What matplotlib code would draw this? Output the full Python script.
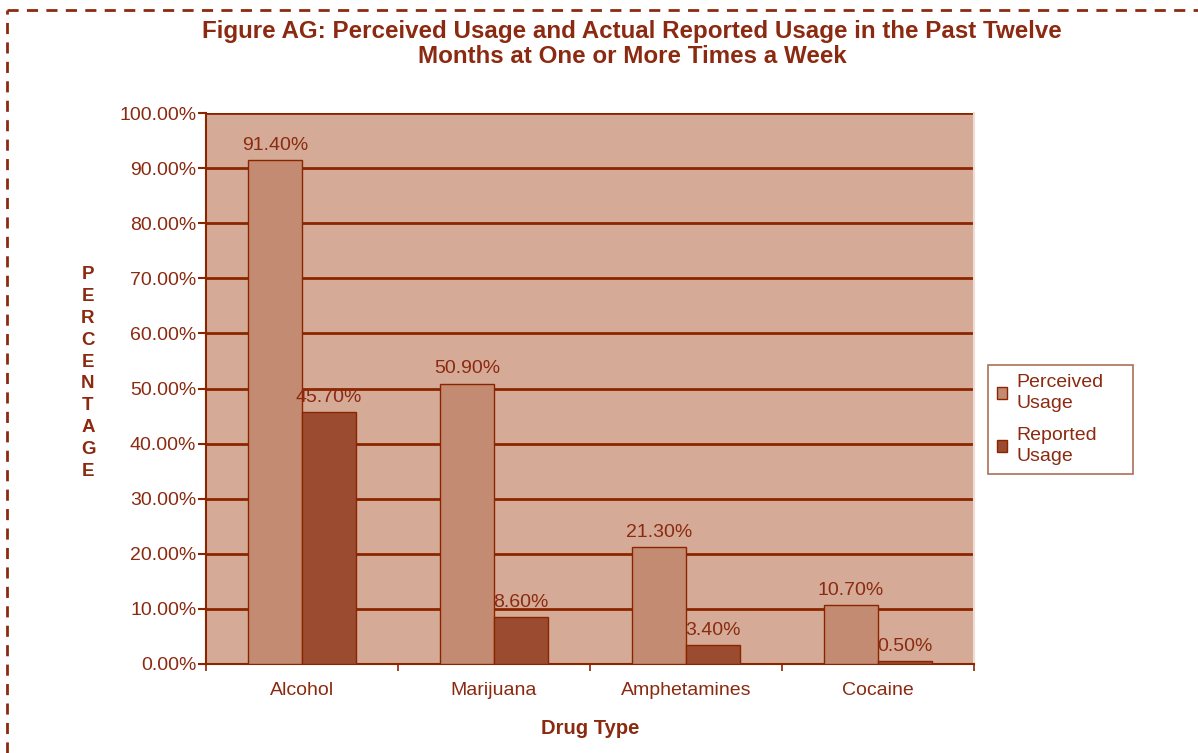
import numpy as np
import matplotlib.pyplot as plt
from matplotlib.lines import Line2D
from matplotlib.ticker import FuncFormatter, FixedLocator

# dados do gráfico
drugs = ["Alcohol", "Marijuana", "Amphetamines", "Cocaine"]
perceived = [91.4, 50.9, 21.3, 10.7]
reported = [45.7, 8.6, 3.4, 0.5]
series_names = ["Perceived\nUsage", "Reported\nUsage"]

# cores
txt = "#8B2A10"
grid_c = "#8B2500"
bg = "#D5AB97"
c_perc = "#C48B73"
c_rep = "#9A4B30"

plt.rcParams['font.family'] = ['Liberation Sans', 'DejaVu Sans']

fig = plt.figure(figsize=(11.98, 7.53), dpi=100)
ax = fig.add_axes([206 / 1198, 1 - 664 / 753, 768 / 1198, 551 / 753])
ax.set_facecolor(bg)

x = np.arange(len(drugs))
w = 0.28
b1 = ax.bar(x - w / 2, perceived, w, color=c_perc, edgecolor=grid_c, linewidth=1, zorder=3, label=series_names[0])
b2 = ax.bar(x + w / 2, reported, w, color=c_rep, edgecolor=grid_c, linewidth=1, zorder=3, label=series_names[1])

for bars, vals in [(b1, perceived), (b2, reported)]:
    for r, v in zip(bars, vals):
        ax.text(r.get_x() + r.get_width() / 2, v + 1.1, f"{v:.2f}%", ha="center", va="bottom",
                fontsize=14, color=txt, zorder=4)

ax.set_xlim(-0.5, 3.5)
ax.set_ylim(0, 100)
ax.set_yticks(np.arange(0, 101, 10))
ax.yaxis.set_major_formatter(FuncFormatter(lambda v, p: f"{v:.2f}%"))
ax.yaxis.grid(True, color=grid_c, linewidth=2, zorder=1)
ax.set_axisbelow(True)

ax.set_xticks(x)
ax.set_xticklabels(drugs)
ax.xaxis.set_minor_locator(FixedLocator([-0.5, 0.5, 1.5, 2.5, 3.5]))
ax.tick_params(axis="x", which="major", length=0, pad=13, labelsize=14, labelcolor=txt)
ax.tick_params(axis="x", which="minor", length=5, width=1.2, color=grid_c)
ax.tick_params(axis="y", length=6, width=1.5, color=grid_c, labelsize=14, labelcolor=txt, pad=1)

for s in ["left", "bottom"]:
    ax.spines[s].set_color(grid_c)
    ax.spines[s].set_linewidth(1.5)
ax.spines["top"].set_visible(False)
ax.spines["right"].set_color("#F0DCD2")
ax.spines["right"].set_linewidth(1.5)

ax.set_xlabel("Drug Type", fontsize=14.5, fontweight="bold", color=txt, labelpad=14)

# rótulo vertical empilhado
fig.text(88 / 1198, 1 - 373 / 753, "\n".join("PERCENTAGE"), ha="center", va="center",
         fontsize=13.5, fontweight="bold", color=txt, linespacing=1.38)

fig.text(632 / 1198, 1 - 44 / 753,
         "Figure AG: Perceived Usage and Actual Reported Usage in the Past Twelve\nMonths at One or More Times a Week",
         ha="center", va="center", fontsize=17.4, fontweight="bold", color=txt, linespacing=1.1)

leg = ax.legend(loc="upper left", bbox_to_anchor=(988 / 1198, 1 - 481 / 753, 145 / 1198, 116 / 753),
                bbox_transform=fig.transFigure, mode="expand",
                frameon=True, fancybox=False, fontsize=14, handlelength=0.55, handleheight=0.55,
                handletextpad=0.45, labelspacing=0.75, borderpad=0.45, borderaxespad=0)
leg.get_frame().set_edgecolor(c_rep)
leg.get_frame().set_linewidth(1.2)
for t in leg.get_texts():
    t.set_color(txt)
    t.set_linespacing(1.35)

# borda tracejada
fig.add_artist(Line2D([7 / 1198, 1], [1 - 10 / 753, 1 - 10 / 753], transform=fig.transFigure,
                      color=txt, linewidth=2, dashes=(4, 3)))
fig.add_artist(Line2D([7 / 1198, 7 / 1198], [0, 1 - 10 / 753], transform=fig.transFigure,
                      color=txt, linewidth=2, dashes=(4, 3)))

fig.savefig("out.png", dpi=100)
